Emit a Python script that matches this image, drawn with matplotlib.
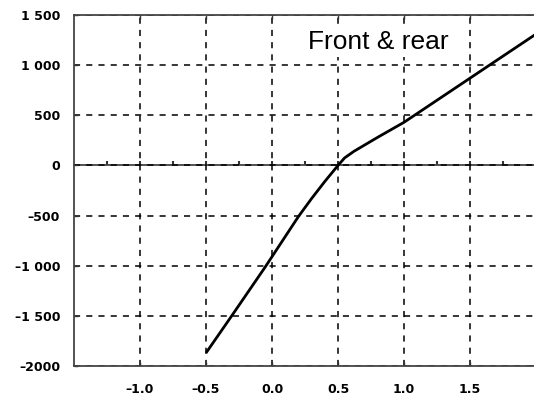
import matplotlib
matplotlib.use("Agg")
import matplotlib.pyplot as plt

# Force curve: front & rear combined
x_vals = [-0.5, -0.3, -0.05, 0.2, 0.3, 0.4, 0.5, 0.55, 0.62, 0.8, 1.0, 1.25, 1.5, 1.75, 2.0]
y_vals = [-1870, -1490, -1010, -510, -330, -160, 0, 75, 140, 280, 430, 650, 870, 1090, 1310]

x_ticks = [-1.0, -0.5, 0.0, 0.5, 1.0, 1.5]
x_tick_labels = ["\u20131.0", "\u20130.5", "0.0", "0.5", "1.0", "1.5"]
y_ticks = [-2000, -1500, -1000, -500, 0, 500, 1000, 1500]
y_tick_labels = ["\u20132000", "\u20131 500", "\u20131 000", "\u2013500", "0", "500", "1 000", "1 500"]
x_minor = [-1.25, -0.75, -0.25, 0.25, 0.75, 1.25, 1.75]
title_text = "Front & rear"

fig = plt.figure(figsize=(5.34, 3.96), dpi=100)
ax = fig.add_axes([74 / 534, 1 - 366 / 396, 462 / 534, 351 / 396])

ax.plot(x_vals, y_vals, color="black", lw=2.0, solid_capstyle="butt", zorder=4)

ax.set_xlim(-1.5, 2.0)
ax.set_ylim(-2000, 1500)
ax.set_xticks(x_ticks)
ax.set_xticklabels(x_tick_labels)
ax.set_yticks(y_ticks)
ax.set_yticklabels(y_tick_labels)

ax.grid(True, color="black", linestyle=(0, (4, 4)), lw=1.1)
for side in ("top", "bottom", "left"):
    ax.spines[side].set_color("#444444")
    ax.spines[side].set_linewidth(1.3)
ax.spines["right"].set_visible(False)

ax.tick_params(axis="both", direction="in", length=3, width=1, color="#333333",
               labelsize=9, top=True)
ax.tick_params(axis="x", pad=12)
ax.tick_params(axis="y", pad=10)
for lab in ax.get_xticklabels() + ax.get_yticklabels():
    lab.set_fontweight("bold")
    lab.set_family("DejaVu Sans")

# zero line with its own small tick marks
zero_axis = ax.secondary_xaxis(0, transform=ax.transData)
zero_axis.spines["bottom"].set_color("#444444")
zero_axis.spines["bottom"].set_linewidth(1.3)
zero_axis.set_xticks(x_ticks)
zero_axis.set_xticks(x_minor, minor=True)
zero_axis.tick_params(which="both", direction="in", length=3, width=1.5,
                      color="#333333", labelbottom=False)

ax.text(0.659, 0.923, title_text, transform=ax.transAxes, ha="center", va="center",
        fontsize=19, family="Liberation Sans", color="black", zorder=5,
        bbox=dict(facecolor="white", edgecolor="none", pad=2))

fig.savefig("out.png", dpi=100)
